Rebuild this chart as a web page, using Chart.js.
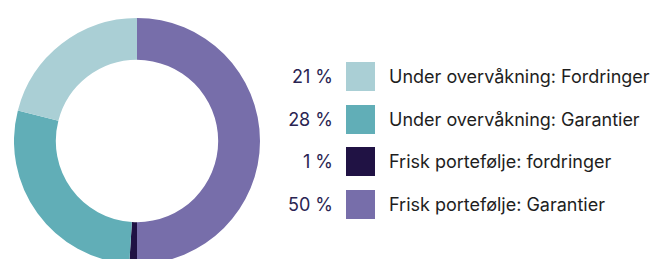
<!DOCTYPE html>
<html>
<head>
<meta charset="utf-8">
<script src="https://cdn.jsdelivr.net/npm/chart.js@4/dist/chart.umd.min.js"></script>
<style>
    html, body { margin: 0; padding: 0; background: #fff; }
    body { width: 662px; height: 259px; overflow: hidden; position: relative; font-family: Inter, "Liberation Sans", sans-serif; }
    #chartBox { position: absolute; left: 14px; top: 18px; width: 246px; height: 246px; }
    #legend { position: absolute; left: 280px; top: 62px; }
    .row { position: absolute; left: 0; height: 29px; display: flex; align-items: center; white-space: nowrap; }
    .pct { width: 53px; text-align: right; color: #2a2452; font-size: 18px; }
    .box { width: 29px; height: 29px; margin-left: 13px; }
    .lbl { margin-left: 14px; color: #1e1e1e; font-size: 18px; }
</style>
</head>
<body>
<div id="chartBox"><canvas id="donut"></canvas></div>
<div id="legend"></div>
<script>
// Данные (по часовой стрелке от 12 часов)
const labels = ['Frisk portefølje: Garantier', 'Frisk portefølje: fordringer', 'Under overvåkning: Garantier', 'Under overvåkning: Fordringer'];
const values = [50, 1, 28, 21];
const colors = ['#776eaa', '#201244', '#61aeb7', '#aacfd5'];

// Порядок в легенде
const legendOrder = [3, 2, 1, 0];

const ctx = document.getElementById('donut').getContext('2d');
const donutChart = new Chart(ctx, {
    type: 'doughnut',
    data: {
        labels: labels,
        datasets: [{
            data: values,
            backgroundColor: colors,
            borderWidth: 0
        }]
    },
    options: {
        responsive: true,
        maintainAspectRatio: false,
        animation: false,
        cutout: '66%',
        layout: { padding: 0 },
        plugins: {
            legend: { display: false },
            tooltip: { enabled: false }
        }
    }
});

// Легенда
const legend = document.getElementById('legend');
legendOrder.forEach((i, n) => {
    const row = document.createElement('div');
    row.className = 'row';
    row.style.top = (n * 42.5) + 'px';

    const pct = document.createElement('div');
    pct.className = 'pct';
    pct.textContent = values[i] + ' %';

    const box = document.createElement('div');
    box.className = 'box';
    box.style.background = colors[i];

    const lbl = document.createElement('div');
    lbl.className = 'lbl';
    lbl.textContent = labels[i];

    row.appendChild(pct);
    row.appendChild(box);
    row.appendChild(lbl);
    legend.appendChild(row);
});
</script>
</body>
</html>
